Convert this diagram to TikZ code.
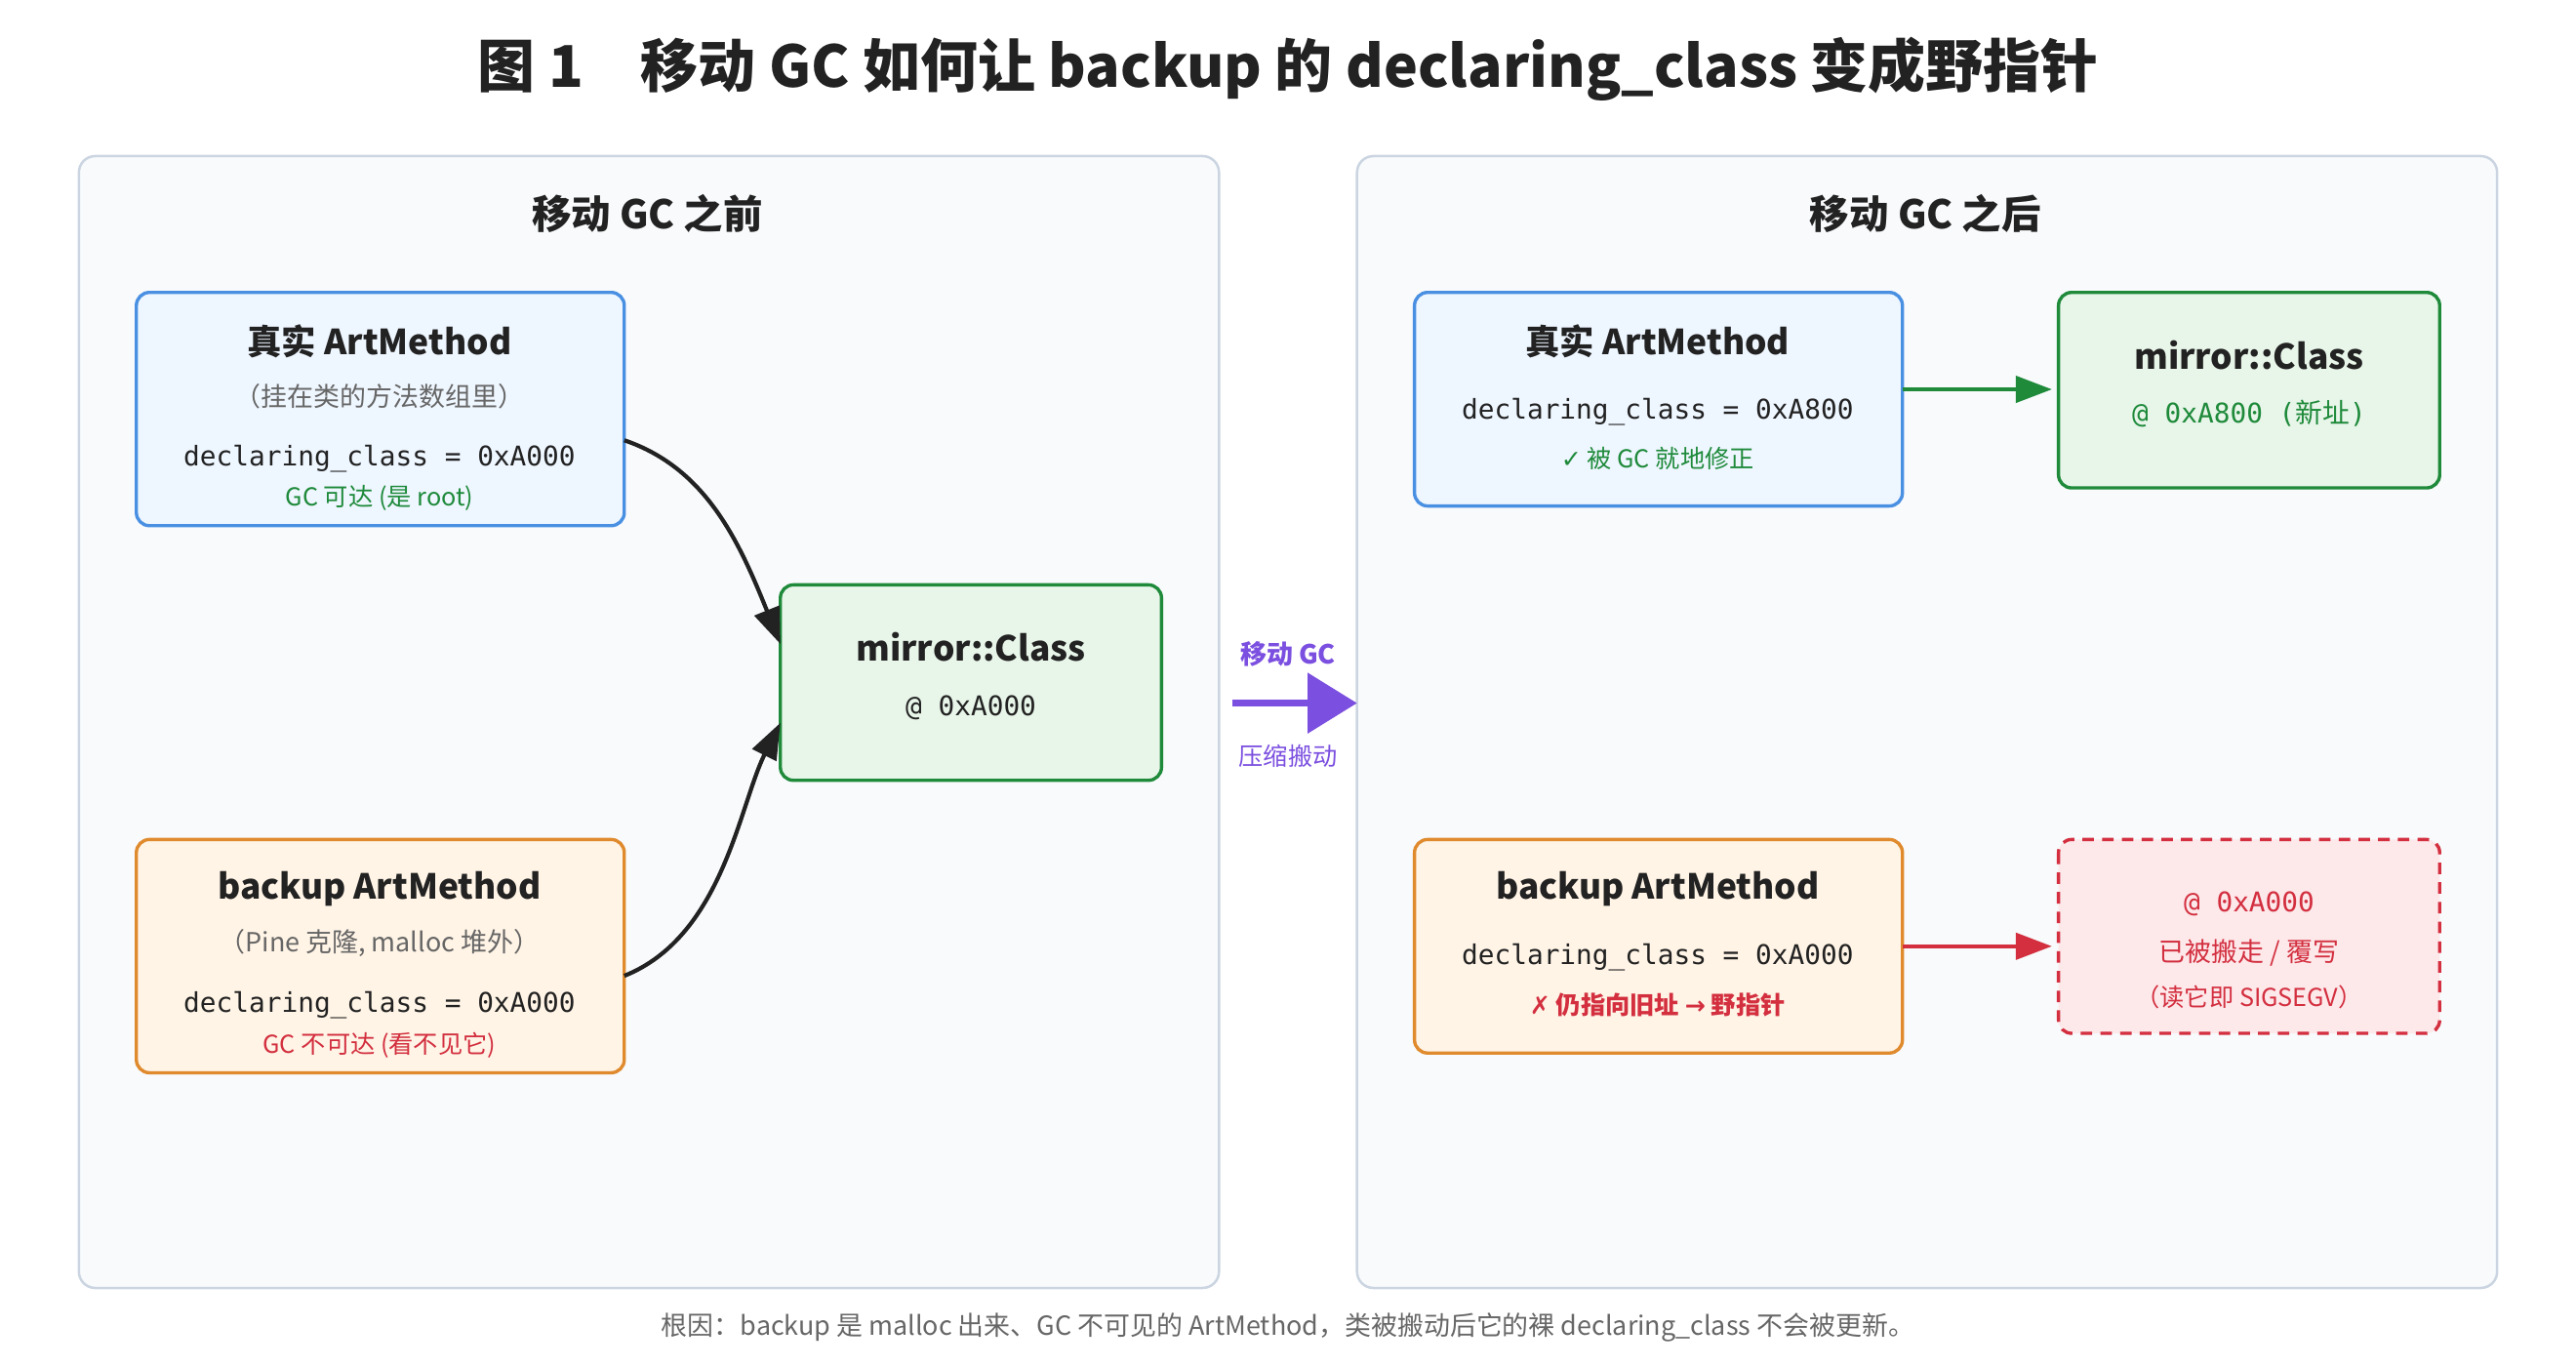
\documentclass[tikz,border=0pt]{standalone}
\usepackage{fontspec}
\setmainfont{Noto Sans CJK SC}
\setmonofont{DejaVu Sans Mono}
\newfontfamily\symf{DejaVu Sans}
\newfontfamily\cjkf{Noto Sans CJK SC}
\usetikzlibrary{arrows.meta}
\definecolor{panelfill}{HTML}{F8FAFC}
\definecolor{panelline}{HTML}{CBD5E1}
\definecolor{bfill}{HTML}{EEF6FF}
\definecolor{bline}{HTML}{4A90E2}
\definecolor{ofill}{HTML}{FFF4E6}
\definecolor{oline}{HTML}{E08A2E}
\definecolor{gfill}{HTML}{E8F5E9}
\definecolor{gline}{HTML}{1E8A3A}
\definecolor{rfill}{HTML}{FDE8EA}
\definecolor{rline}{HTML}{D32F3F}
\definecolor{purp}{HTML}{7B4FE0}
\definecolor{txt}{HTML}{222222}
\definecolor{gray1}{HTML}{666666}
\begin{document}
\begin{tikzpicture}[x=1pt,y=-1pt,
  panel/.style={draw=panelline,fill=panelfill,line width=1.5pt,rounded corners=10pt},
  box/.style={line width=2pt,rounded corners=8pt},
  t/.style={font=\fontsize{21}{24}\selectfont\bfseries,text=txt},
  pt/.style={font=\fontsize{24}{28}\selectfont\bfseries,text=txt},
  sub/.style={font=\fontsize{16}{19}\selectfont,text=gray1},
  mono/.style={font=\fontsize{16.5}{20}\selectfont\ttfamily,text=txt},
  sm/.style={font=\fontsize{15}{18}\selectfont},
  conn/.style={line width=2.5pt,-{Triangle[length=22pt,width=16pt]}}]
\useasboundingbox (0,0) rectangle (1568,832);
\node[font=\fontsize{35}{40}\selectfont\bfseries,text=txt] (title) at (784,42) {图 1\quad 移动 GC 如何让 backup 的 declaring\_class 变成野指针};
\draw[panel] (48,95) rectangle (742,784);
\draw[panel] (826,95) rectangle (1520,784);
\node[pt] (lt) at (394,130) {移动 GC 之前};
\node[pt] (rt) at (1172,130) {移动 GC 之后};
% left blue
\draw[box,draw=bline,fill=bfill] (83,178) rectangle (380,320);
\coordinate (lb) at (380,268);
\node[t] (lb1) at (231,208) {真实 ArtMethod};
\node[sub] (lb2) at (231,241) {（挂在类的方法数组里）};
\node[mono] (lb3) at (231,279) {declaring\_class = 0xA000};
\node[sm,text=gline] (lb4) at (231,303) {GC 可达 (是 root)};
% left orange
\draw[box,draw=oline,fill=ofill] (83,511) rectangle (380,653);
\coordinate (lo) at (380,594);
\node[t] (lo1) at (231,541) {backup ArtMethod};
\node[sub] (lo2) at (231,574) {（Pine 克隆, malloc 堆外）};
\node[mono] (lo3) at (231,612) {declaring\_class = 0xA000};
\node[sm,text=rline] (lo4) at (231,636) {GC 不可达 (看不见它)};
% mid green
\draw[box,draw=gline,fill=gfill] (475,356) rectangle (707,475);
\coordinate (mg1) at (475,392);
\coordinate (mg2) at (475,440);
\node[t] (mgt) at (591,394) {mirror::Class};
\node[mono] (mga) at (591,431) {@ 0xA000};
\draw[conn,txt] (lb) .. controls (430,285) and (450,330) .. (mg1);
\draw[conn,txt] (lo) .. controls (440,570) and (450,490) .. (mg2);
% middle arrow
\coordinate (ma) at (750,428);
\coordinate (mb) at (826,428);
\draw[purp,line width=4pt,-{Triangle[length=30pt,width=36pt]}] (ma) -- (mb);
\node[text=purp,font=\fontsize{16}{19}\selectfont\bfseries] (mt) at (784,398) {移动 GC};
\node[sm,text=purp] (mb2) at (784,460) {压缩搬动};
% right blue
\draw[box,draw=bline,fill=bfill] (861,178) rectangle (1158,308);
\coordinate (rb) at (1158,237);
\node[t] (rb1) at (1009,208) {真实 ArtMethod};
\node[mono] (rb2) at (1009,251) {declaring\_class = 0xA800};
\node[sm,text=gline] (rb3) at (1009,279) {{\symf ✓} 被 GC 就地修正};
% right green
\draw[box,draw=gline,fill=gfill] (1253,178) rectangle (1485,297);
\coordinate (rg) at (1249,237);
\node[t] (rg1) at (1369,216) {mirror::Class};
\node[mono,text=gline] (rg2) at (1369,252) {@ 0xA800 ({\cjkf 新址})};
\draw[conn,gline] (rb) -- (rg);
% right orange
\draw[box,draw=oline,fill=ofill] (861,511) rectangle (1158,641);
\coordinate (ro) at (1158,576);
\node[t] (ro1) at (1009,541) {backup ArtMethod};
\node[mono] (ro2) at (1009,583) {declaring\_class = 0xA000};
\node[text=rline,font=\fontsize{15}{18}\selectfont\bfseries] (ro3) at (1009,612) {{\symf ✗} 仍指向旧址 {\symf →} 野指针};
% red dashed
\draw[box,draw=rline,fill=rfill,dash pattern=on 7pt off 5pt] (1253,511) rectangle (1485,629);
\coordinate (rr) at (1249,576);
\node[mono,text=rline] (rr1) at (1369,550) {@ 0xA000};
\node[text=rline,font=\fontsize{16}{19}\selectfont] (rr2) at (1369,580) {已被搬走 / 覆写};
\node[sm,text=rline] (rr3) at (1369,607) {（读它即 SIGSEGV）};
\draw[conn,rline] (ro) -- (rr);
\node[sub] (foot) at (784,808) {根因：backup 是 malloc 出来、GC 不可见的 ArtMethod，类被搬动后它的裸 declaring\_class 不会被更新。};
\end{tikzpicture}
\end{document}
